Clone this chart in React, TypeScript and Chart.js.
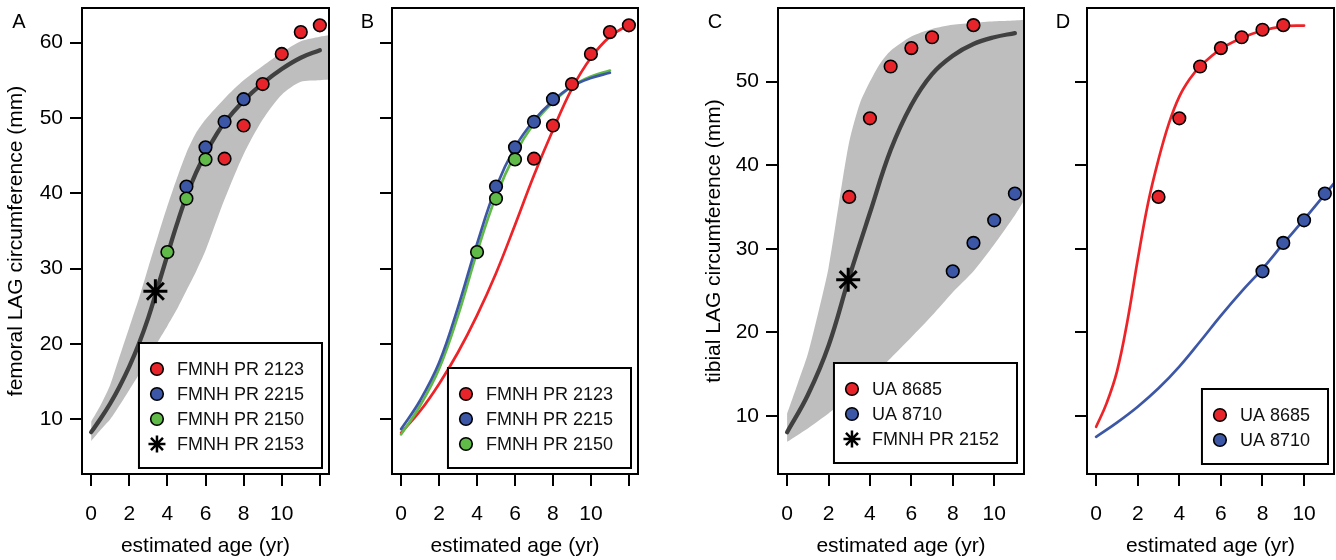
import React, { useEffect, useRef } from 'react';
import { Chart, registerables } from 'chart.js';

Chart.register(...registerables);

const FONT = "'Liberation Sans', Arial, Helvetica, sans-serif";

// ---------------- data ----------------
const xTicksFemoral = [0, 2, 4, 6, 8, 10, 12];
const xTickLabelsFemoral = ['0', '2', '4', '6', '8', '10', ''];
const xTicksTibial = [0, 2, 4, 6, 8, 10];
const xTickLabelsTibial = ['0', '2', '4', '6', '8', '10'];
const yTicksFemoral = [10, 20, 30, 40, 50, 60];
const yTicksTibial = [10, 20, 30, 40, 50];

// femoral specimens (panels A, B)
const agesPR2123 = [7, 8, 9, 10, 11, 12];
const circPR2123 = [44.6, 49.0, 54.5, 58.5, 61.4, 62.3];
const agesPR2215 = [5, 6, 7, 8];
const circPR2215 = [40.9, 46.1, 49.5, 52.5];
const agesPR2150 = [4, 5, 6];
const circPR2150 = [32.2, 39.3, 44.5];
const agesPR2153 = [3.37];
const circPR2153 = [27.0];

// panel A composite curve and band
const curveAgesA = [0, 0.5, 1, 1.5, 2, 2.5, 3, 3.5, 4, 4.5, 5, 5.5, 6, 6.5, 7, 8, 9, 10, 11, 12];
const curveA = [8.3, 10.1, 12.1, 14.4, 17.0, 20.0, 23.5, 27.6, 31.8, 35.9, 39.6, 42.7, 45.3, 47.5, 49.4, 52.3, 54.6, 56.5, 58.0, 59.0];
const bandAgesA = [0, 0.5, 1, 1.5, 2, 2.5, 3, 3.5, 4, 4.5, 5, 5.5, 6, 7, 8, 9, 10, 11, 12, 12.5];
const bandUpperA = [9.7, 11.9, 14.6, 18.4, 22.2, 26.0, 30.2, 34.3, 38.3, 42.0, 45.4, 48.0, 49.8, 52.6, 55.0, 56.9, 58.7, 60.2, 60.8, 61.0];
const bandLowerA = [7.1, 8.6, 10.0, 11.9, 13.9, 15.9, 18.1, 20.3, 22.4, 24.6, 27.1, 29.6, 32.4, 39.2, 45.2, 49.8, 53.1, 54.8, 55.0, 55.1];

// panel B individual curves
const curveAgesB2123 = [0, 1, 2, 3, 4, 5, 6, 7, 8, 9, 10, 11, 12];
const curveB2123 = [8.2, 11.1, 14.7, 18.9, 23.8, 29.4, 35.8, 42.4, 48.4, 53.9, 58.0, 60.8, 62.4];
const curveAgesB = [0, 1, 2, 3, 4, 5, 6, 7, 8, 9, 10, 11];
const curveB2215 = [8.7, 12.5, 17.5, 24.9, 33.3, 40.8, 46.1, 49.7, 52.3, 54.2, 55.3, 56.0];
const curveB2150 = [8.0, 11.8, 16.7, 23.8, 32.2, 39.6, 45.2, 49.3, 52.1, 54.2, 55.5, 56.3];

// tibial specimens (panels C, D)
const agesUA8685C = [3, 4, 5, 6, 7, 9];
const circUA8685C = [36.2, 45.6, 51.8, 54.0, 55.3, 56.75];
const agesUA8685D = [3, 4, 5, 6, 7, 8, 9];
const circUA8685D = [36.2, 45.6, 51.8, 54.0, 55.3, 56.2, 56.75];
const agesUA8710 = [8, 9, 10, 11];
const circUA8710 = [27.3, 30.7, 33.4, 36.6];
const agesPR2152 = [2.95];
const circPR2152 = [26.3];

// panel C composite curve and band
const curveAgesC = [0, 1, 2, 3, 4, 5, 6, 7, 8, 9, 10, 11];
const curveC = [8.05, 12.5, 18.4, 26.6, 34.3, 41.8, 47.2, 50.9, 53.1, 54.5, 55.3, 55.8];
const bandAgesC = [0, 0.5, 1, 1.5, 2, 2.5, 3, 3.5, 4, 4.5, 5, 6, 7, 8, 9, 10, 11, 11.5];
const bandUpperC = [10.3, 13.8, 17.4, 22.3, 27.7, 35.4, 42.8, 47.3, 50.0, 52.2, 53.7, 55.4, 56.3, 56.8, 57.0, 57.2, 57.3, 57.4];
const bandLowerC = [6.9, 7.7, 8.5, 9.4, 10.3, 11.3, 12.3, 13.4, 14.5, 15.7, 16.9, 19.4, 22.0, 24.8, 27.3, 30.5, 34.0, 36.0];

// panel D individual curves
const curveAgesD8685 = [0, 0.5, 1, 1.5, 2, 2.5, 3, 3.5, 4, 4.5, 5, 6, 7, 8, 9, 10];
const curveD8685 = [8.7, 11.5, 15.3, 21.3, 28.7, 35.5, 40.7, 45.0, 48.2, 50.3, 51.8, 53.9, 55.2, 56.1, 56.6, 56.7];
const curveAgesD8710 = [0, 1, 2, 3, 4, 5, 6, 7, 8, 9, 10, 11, 11.5];
const curveD8710 = [7.5, 9.2, 11.1, 13.3, 15.9, 18.9, 22.0, 24.9, 27.6, 30.6, 33.5, 36.5, 38.0];

const legendA = ['FMNH PR 2123', 'FMNH PR 2215', 'FMNH PR 2150', 'FMNH PR 2153'];
const legendB = ['FMNH PR 2123', 'FMNH PR 2215', 'FMNH PR 2150'];
const legendC = ['UA 8685', 'UA 8710', 'FMNH PR 2152'];
const legendD = ['UA 8685', 'UA 8710'];

// ---------------- styles ----------------
const RED = '#E8242B';
const LINE_RED = '#EE2328';
const BLUE = '#3D57A7';
const GREEN = '#5FBA47';
const DARK = '#404040';
const BAND = '#BEBEBE';

const pts = (xs: number[], ys: number[]) => xs.map((x, i) => ({ x, y: ys[i] }));

const pointSet = (label: string, xs: number[], ys: number[], color: string, order: number) => ({
  label,
  data: pts(xs, ys),
  showLine: false,
  pointStyle: 'circle',
  pointRadius: 6.3,
  pointBackgroundColor: color,
  pointBorderColor: '#000',
  pointBorderWidth: 1.6,
  order,
});

const starSet = (label: string, xs: number[], ys: number[], order: number) => ({
  label,
  data: pts(xs, ys),
  showLine: false,
  pointStyle: 'star',
  pointRadius: 12,
  pointBackgroundColor: '#000',
  pointBorderColor: '#000',
  pointBorderWidth: 3,
  order,
});

const curveSet = (label: string, xs: number[], ys: number[], color: string, width: number, order: number) => ({
  label,
  data: pts(xs, ys),
  borderColor: color,
  borderWidth: width,
  pointRadius: 0,
  fill: false,
  tension: 0.4,
  cubicInterpolationMode: 'default',
  borderCapStyle: 'round',
  order,
});

const bandSets = (xs: number[], up: number[], lo: number[]) => [
  {
    label: 'band upper',
    data: pts(xs, up),
    borderColor: 'rgba(0,0,0,0)',
    borderWidth: 0,
    backgroundColor: BAND,
    pointRadius: 0,
    fill: '+1',
    tension: 0.25,
    order: 20,
  },
  {
    label: 'band lower',
    data: pts(xs, lo),
    borderColor: 'rgba(0,0,0,0)',
    borderWidth: 0,
    pointRadius: 0,
    fill: false,
    tension: 0.25,
    order: 21,
  },
];

type LegendItem = { label: string; color: string | null };

interface Panel {
  letter: string;
  canvasL: number;
  canvasW: number;
  yAxisW: number;
  padRight: number;
  xMin: number;
  xMax: number;
  yMin: number;
  yMax: number;
  xTicks: number[];
  xLabels: string[];
  yTicks: number[];
  showYLabels: boolean;
  yTitle: string;
  yTitlePad: number;
  letterDx: number;
  legend: LegendItem[];
  legendInset: [number, number];
  datasets: any[];
}

const PANELS: Panel[] = [
  {
    letter: 'A', canvasL: 0, canvasW: 340, yAxisW: 82, padRight: 11,
    xMin: -0.48, xMax: 12.48, yMin: 2.74, yMax: 64.6,
    xTicks: xTicksFemoral, xLabels: xTickLabelsFemoral, yTicks: yTicksFemoral,
    showYLabels: true, yTitle: 'femoral LAG circumference (mm)', yTitlePad: 3.5, letterDx: -63,
    legend: [
      { label: legendA[0], color: RED }, { label: legendA[1], color: BLUE },
      { label: legendA[2], color: GREEN }, { label: legendA[3], color: null },
    ],
    legendInset: [7, 6],
    datasets: [
      starSet(legendA[3], agesPR2153, circPR2153, 0),
      pointSet(legendA[2], agesPR2150, circPR2150, GREEN, 1),
      pointSet(legendA[1], agesPR2215, circPR2215, BLUE, 2),
      pointSet(legendA[0], agesPR2123, circPR2123, RED, 3),
      curveSet('fit', curveAgesA, curveA, DARK, 4.3, 5),
      ...bandSets(bandAgesA, bandUpperA, bandLowerA),
    ],
  },
  {
    letter: 'B', canvasL: 340, canvasW: 320, yAxisW: 52, padRight: 22,
    xMin: -0.48, xMax: 12.48, yMin: 2.74, yMax: 64.6,
    xTicks: xTicksFemoral, xLabels: xTickLabelsFemoral, yTicks: yTicksFemoral,
    showYLabels: false, yTitle: '', yTitlePad: 0, letterDx: -24.5,
    legend: [
      { label: legendB[0], color: RED }, { label: legendB[1], color: BLUE }, { label: legendB[2], color: GREEN },
    ],
    legendInset: [7, 6],
    datasets: [
      pointSet(legendB[2], agesPR2150, circPR2150, GREEN, 1),
      pointSet(legendB[1], agesPR2215, circPR2215, BLUE, 2),
      pointSet(legendB[0], agesPR2123, circPR2123, RED, 3),
      curveSet('fit 2215', curveAgesB, curveB2215, BLUE, 2.7, 5),
      curveSet('fit 2150', curveAgesB, curveB2150, GREEN, 2.7, 6),
      curveSet('fit 2123', curveAgesB2123, curveB2123, LINE_RED, 2.7, 7),
    ],
  },
  {
    letter: 'C', canvasL: 660, canvasW: 370, yAxisW: 118, padRight: 6,
    xMin: -0.44, xMax: 11.44, yMin: 3.05, yMax: 58.8,
    xTicks: xTicksTibial, xLabels: xTickLabelsTibial, yTicks: yTicksTibial,
    showYLabels: true, yTitle: 'tibial LAG circumference (mm)', yTitlePad: 41.5, letterDx: -63,
    legend: [
      { label: legendC[0], color: RED }, { label: legendC[1], color: BLUE }, { label: legendC[2], color: null },
    ],
    legendInset: [7, 11],
    datasets: [
      starSet(legendC[2], agesPR2152, circPR2152, 0),
      pointSet(legendC[1], agesUA8710, circUA8710, BLUE, 1),
      pointSet(legendC[0], agesUA8685C, circUA8685C, RED, 2),
      curveSet('fit', curveAgesC, curveC, DARK, 4.3, 5),
      ...bandSets(bandAgesC, bandUpperC, bandLowerC),
    ],
  },
  {
    letter: 'D', canvasL: 1030, canvasW: 306, yAxisW: 57, padRight: 2,
    xMin: -0.44, xMax: 11.44, yMin: 3.05, yMax: 58.8,
    xTicks: xTicksTibial, xLabels: xTickLabelsTibial, yTicks: yTicksTibial,
    showYLabels: false, yTitle: '', yTitlePad: 0, letterDx: -24,
    legend: [{ label: legendD[0], color: RED }, { label: legendD[1], color: BLUE }],
    legendInset: [6, 10],
    datasets: [
      pointSet(legendD[1], agesUA8710, circUA8710, BLUE, 1),
      pointSet(legendD[0], agesUA8685D, circUA8685D, RED, 2),
      curveSet('fit 8710', curveAgesD8710, curveD8710, BLUE, 2.7, 5),
      curveSet('fit 8685', curveAgesD8685, curveD8685, LINE_RED, 2.7, 6),
    ],
  },
];

function drawStar(ctx: CanvasRenderingContext2D, x: number, y: number, r: number, lw: number) {
  ctx.save();
  ctx.strokeStyle = '#000';
  ctx.lineWidth = lw;
  ctx.beginPath();
  for (let k = 0; k < 4; k++) {
    const a = (k * Math.PI) / 4;
    ctx.moveTo(x - Math.cos(a) * r, y - Math.sin(a) * r);
    ctx.lineTo(x + Math.cos(a) * r, y + Math.sin(a) * r);
  }
  ctx.stroke();
  ctx.restore();
}

const panelPlugin = (p: Panel) => ({
  id: 'panelDecor' + p.letter,
  afterDatasetsDraw(chart: any) {
    const { ctx, chartArea: a } = chart;
    ctx.save();
    // frame
    ctx.lineWidth = 2;
    ctx.strokeStyle = '#000';
    ctx.strokeRect(a.left, a.top, a.right - a.left, a.bottom - a.top);
    // legend
    ctx.font = `18px ${FONT}`;
    const tw = Math.max(...p.legend.map((it) => ctx.measureText(it.label).width));
    const w = 38 + tw + 18;
    const h = 25 * (p.legend.length + 1);
    const right = a.right - p.legendInset[0];
    const bottom = a.bottom - p.legendInset[1];
    const left = right - w;
    const top = bottom - h;
    ctx.fillStyle = '#fff';
    ctx.fillRect(left, top, w, h);
    ctx.strokeRect(left, top, w, h);
    p.legend.forEach((it, i) => {
      const cy = top + 26 + 25 * i;
      const cx = left + 18;
      if (it.color) {
        ctx.beginPath();
        ctx.arc(cx, cy, 6.3, 0, Math.PI * 2);
        ctx.fillStyle = it.color;
        ctx.fill();
        ctx.lineWidth = 1.6;
        ctx.strokeStyle = '#000';
        ctx.stroke();
      } else {
        drawStar(ctx, cx, cy, 8.5, 2.5);
      }
      ctx.fillStyle = '#111';
      ctx.textAlign = 'left';
      ctx.textBaseline = 'middle';
      ctx.fillText(it.label, left + 38, cy + 1);
    });
    // panel letter
    ctx.font = `20px ${FONT}`;
    ctx.fillStyle = '#000';
    ctx.textAlign = 'center';
    ctx.textBaseline = 'middle';
    ctx.fillText(p.letter, a.left + p.letterDx, 22);
    ctx.restore();
  },
});

function buildConfig(p: Panel): any {
  const gridOpts = {
    display: true,
    drawOnChartArea: false,
    drawTicks: true,
    tickLength: 12,
    color: '#000',
    lineWidth: 2,
  };
  return {
    type: 'line',
    data: { datasets: p.datasets },
    options: {
      animation: false,
      responsive: false,
      devicePixelRatio: 1,
      layout: { autoPadding: false, padding: { left: 0, top: 8, right: p.padRight, bottom: 0 } },
      plugins: { legend: { display: false }, tooltip: { enabled: false } },
      scales: {
        x: {
          type: 'linear',
          min: p.xMin,
          max: p.xMax,
          afterBuildTicks: (s: any) => {
            s.ticks = p.xTicks.map((v) => ({ value: v }));
          },
          afterFit: (s: any) => {
            s.height = 86;
            s.paddingLeft = 0;
            s.paddingRight = 0;
          },
          grid: gridOpts,
          border: { display: false },
          ticks: {
            autoSkip: false,
            maxRotation: 0,
            padding: 16,
            color: '#000',
            font: { family: FONT, size: 21 },
            callback: (v: number) => p.xLabels[p.xTicks.indexOf(v)] ?? '',
          },
          title: {
            display: true,
            text: 'estimated age (yr)',
            color: '#000',
            font: { family: FONT, size: 21 },
            padding: { top: 0, bottom: 1 },
          },
        },
        y: {
          type: 'linear',
          min: p.yMin,
          max: p.yMax,
          afterBuildTicks: (s: any) => {
            s.ticks = p.yTicks.map((v) => ({ value: v }));
          },
          afterFit: (s: any) => {
            s.width = p.yAxisW;
            s.paddingTop = 0;
            s.paddingBottom = 0;
          },
          grid: gridOpts,
          border: { display: false },
          ticks: {
            autoSkip: false,
            padding: 7,
            color: '#000',
            font: { family: FONT, size: 21 },
            callback: (v: number) => (p.showYLabels ? String(v) : ''),
          },
          title: {
            display: p.yTitle !== '',
            text: p.yTitle,
            color: '#000',
            font: { family: FONT, size: 21 },
            padding: { top: p.yTitlePad, bottom: 0 },
          },
        },
      },
    },
    plugins: [panelPlugin(p)],
  };
}

export default function App() {
  const r0 = useRef<HTMLCanvasElement | null>(null);
  const r1 = useRef<HTMLCanvasElement | null>(null);
  const r2 = useRef<HTMLCanvasElement | null>(null);
  const r3 = useRef<HTMLCanvasElement | null>(null);
  const refs = [r0, r1, r2, r3];

  useEffect(() => {
    const charts = PANELS.map((p, i) => new Chart(refs[i].current as HTMLCanvasElement, buildConfig(p)));
    return () => charts.forEach((c) => c.destroy());
  }, []);

  return (
    <div style={{ position: 'absolute', left: 0, top: 0, width: 1336, height: 560, background: '#fff' }}>
      {PANELS.map((p, i) => (
        <canvas
          key={p.letter}
          ref={refs[i]}
          width={p.canvasW}
          height={560}
          style={{ position: 'absolute', left: p.canvasL, top: 0, width: p.canvasW, height: 560 }}
        />
      ))}
    </div>
  );
}
